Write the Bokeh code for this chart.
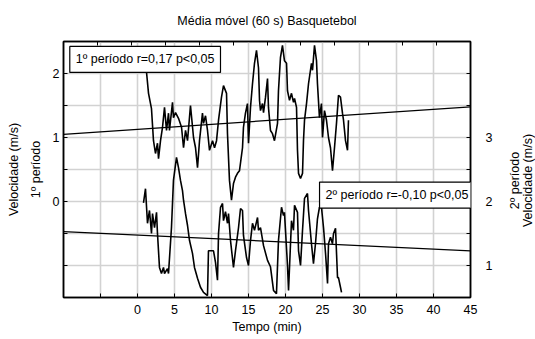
import math
from bokeh.plotting import figure
from bokeh.layouts import row
from bokeh.models import Range1d, LinearAxis, FixedTicker, Label
from bokeh.embed import file_html
from bokeh.resources import INLINE

# ---- data ----
t1 = [1.08, 1.22, 1.49, 1.89, 2.16, 2.43, 2.70, 2.84, 3.11, 3.38, 3.65, 3.92, 4.19, 4.32, 4.73, 4.86,
      5.14, 5.54, 5.95, 6.22, 6.49, 6.76, 7.16, 7.57, 7.84, 8.11, 8.38, 8.78, 8.92, 9.19, 9.46, 9.73,
      10.14, 10.41, 10.68, 10.95, 11.35, 11.62, 12.03, 12.16, 12.43, 12.70, 12.97, 13.24, 13.51, 13.78,
      14.19, 14.32, 14.59, 14.86, 15.00, 15.27, 15.54, 15.81, 16.08, 16.35, 16.49, 16.62, 16.89, 17.03,
      17.30, 17.57, 17.70, 17.97, 18.24, 18.51, 18.92, 19.05, 19.32, 19.59, 19.86, 20.14, 20.27, 20.54,
      20.81, 21.08, 21.22, 21.49, 21.62, 21.76, 22.03, 22.30, 22.43, 22.57, 22.84, 23.11, 23.51, 23.65,
      23.92, 24.19, 24.32, 24.59, 24.86, 25.00, 25.27, 25.54, 25.81, 26.08, 26.35, 26.62, 26.89, 27.16,
      27.43, 27.70, 27.84, 28.11, 28.38, 28.51]
v1 = [2.28, 2.02, 1.69, 1.45, 0.95, 0.75, 0.91, 0.67, 0.95, 1.16, 1.47, 1.11, 1.38, 1.11, 1.55, 1.31,
      1.39, 1.30, 1.16, 0.84, 1.11, 0.95, 1.50, 1.00, 0.84, 0.53, 0.95, 1.38, 1.22, 1.34, 1.11, 0.80,
      0.95, 0.84, 0.95, 1.27, 1.63, 1.81, 1.69, 1.06, 0.33, 0.02, 0.28, 0.38, 0.44, 0.48,
      0.84, 1.16, 1.38, 1.53, 0.91, 1.47, 1.84, 2.16, 2.36, 2.09, 1.58, 1.42, 1.53, 1.39,
      1.63, 1.92, 1.47, 1.11, 1.06, 0.95, 1.22, 1.73, 2.25, 2.44, 2.20, 2.16, 1.73, 1.58,
      1.69, 1.55, 1.61, 1.47, 0.80, 0.44, 0.36, 0.44, 0.95, 1.27, 1.53, 1.84, 2.16, 2.05,
      2.44, 2.20, 1.84, 1.31, 1.53, 1.00, 1.42, 1.27, 1.00, 0.84, 0.48, 0.84, 1.22, 1.66,
      1.63, 1.38, 1.27, 0.95, 0.80, 1.27]

t2 = [0.81, 1.08, 1.35, 1.62, 1.89, 2.03, 2.30, 2.57, 2.70, 2.97, 3.24, 3.51, 3.65, 4.05, 4.19, 4.59,
      4.86, 5.27, 5.54, 5.81, 6.08, 6.22, 6.49, 6.76, 7.03, 7.43, 7.70, 8.11, 8.51, 8.92, 9.46, 9.59,
      10.27, 10.54, 10.81, 10.95, 11.22, 11.49, 11.62, 11.89, 12.16, 12.30, 12.57, 12.97, 13.24, 13.65,
      13.92, 14.19, 14.32, 14.73, 15.00, 15.27, 15.54, 15.81, 16.22, 16.35, 16.62, 17.03, 17.57, 17.97,
      18.38, 18.78, 19.05, 19.46, 19.73, 19.86, 20.27, 20.41, 20.81, 21.08, 21.22, 21.62, 21.76, 22.03,
      22.30, 22.57, 22.97, 23.11, 23.51, 23.78, 24.05, 24.32, 24.59, 24.86, 25.14, 25.41, 25.68, 25.81,
      26.08, 26.35, 26.49, 26.76, 27.03, 27.16, 27.43, 27.57]
v2 = [1.98, 2.20, 1.66, 1.86, 1.50, 1.81, 1.59, 1.83, 1.50, 0.97, 0.875, 0.97, 0.875, 0.95, 0.875, 1.59,
      2.33, 2.69, 2.53, 2.33, 2.17, 2.02, 1.81, 1.625, 1.39, 1.19, 0.97, 0.80, 0.66, 0.58, 0.53, 1.23,
      1.23, 1.05, 0.77, 1.50, 1.91, 1.97, 1.70, 1.84, 1.66, 1.81, 1.39, 0.97, 1.23, 1.59,
      1.89, 1.86, 1.47, 1.125, 1.00, 1.39, 1.66, 1.55, 1.75, 1.55, 1.59, 1.31, 1.08, 0.98,
      0.61, 0.56, 1.39, 1.91, 1.78, 1.83, 1.00, 0.61, 1.70, 1.55, 1.94, 1.83, 1.23, 1.00,
      1.55, 2.05, 2.125, 1.86, 1.34, 1.03, 1.34, 1.73, 1.91, 1.91, 1.59, 1.19, 0.72, 1.34,
      1.44, 1.34, 1.50, 1.58, 0.81, 0.81, 0.66, 0.58]

fit_t = [-10, 45]
fit1 = [1.05, 1.48]
fit2 = [1.53, 1.23]

x_major = [0, 5, 10, 15, 20, 25, 30, 35, 40, 45]
x_minor = [-10, -5]
x_grid = [-5, 0, 5, 10, 15, 20, 25, 30, 35, 40]
top_ticks = [-10, -5, 0, 5, 10, 15, 20, 25, 30, 35, 40, 45, 50]
yl_major = [0, 1, 2]
yl_minor = [-1.5, -1, -0.5, 0.5, 1.5, 2.5]
yr_major = [1, 2, 3]
yr_minor = [0.5, 1.5, 2.5, 3.5, 4, 4.5]
y_grid = [-1, -0.5, 0, 0.5, 1, 1.5, 2]

title_text = "Média móvel (60 s) Basquetebol"
xlabel = "Tempo (min)"
ylabel_l = ["Velocidade (m/s)", "1º período"]
ylabel_r = ["2º período", "Velocidade (m/s)"]
note1 = "1º período r=0,17 p<0,05"
note2 = "2º período r=-0,10 p<0,05"

FONT = "Liberation Sans"
FS = "12.5px"

p = figure(frame_width=407, frame_height=256,
           min_border_left=63, min_border_right=29, min_border_top=41, min_border_bottom=42,
           x_range=Range1d(-10, 45), y_range=Range1d(-1.5, 2.5),
           output_backend="svg", toolbar_location=None)
p.extra_y_ranges = {"right": Range1d(0.5, 4.5)}
p.extra_x_ranges = {"top": Range1d(-10, 50)}
p.outline_line_color = "black"
p.outline_line_width = 1.5
p.background_fill_color = "white"
p.border_fill_color = "white"

p.title.text = title_text
p.title.align = "center"
p.title.vertical_align = "top"
p.title.text_font = FONT
p.title.text_font_size = FS
p.title.text_font_style = "normal"
p.title.text_color = "black"
p.title.standoff = 24


def style_axis(ax):
    ax.major_tick_in = 4
    ax.major_tick_out = 0
    ax.minor_tick_in = 4
    ax.minor_tick_out = 0
    ax.major_tick_line_color = "black"
    ax.minor_tick_line_color = "black"
    ax.axis_line_color = "black"
    ax.axis_line_width = 1.5
    ax.major_label_text_font = FONT
    ax.major_label_text_font_size = FS
    ax.major_label_text_color = "black"
    ax.axis_label_text_font = FONT
    ax.axis_label_text_font_size = FS
    ax.axis_label_text_font_style = "normal"
    ax.axis_label_text_color = "black"


def label_axis(text, standoff):
    ax = LinearAxis(ticker=FixedTicker(ticks=[]))
    style_axis(ax)
    ax.axis_line_color = None
    ax.major_tick_line_color = None
    ax.minor_tick_line_color = None
    ax.major_label_standoff = 0
    ax.axis_label = text
    ax.axis_label_standoff = standoff
    return ax


xa = p.xaxis[0]
xa.ticker = FixedTicker(ticks=x_major, minor_ticks=x_minor)
style_axis(xa)
xa.major_label_standoff = 7
xa.axis_label = xlabel
xa.axis_label_standoff = 3

ya = p.yaxis[0]
ya.ticker = FixedTicker(ticks=yl_major, minor_ticks=yl_minor)
style_axis(ya)
ya.major_label_standoff = 4
ya.major_label_orientation = "horizontal"
ya.axis_label = ylabel_l[1]
ya.axis_label_standoff = 7
p.add_layout(label_axis(ylabel_l[0], 5), "left")

ra = LinearAxis(y_range_name="right", ticker=FixedTicker(ticks=yr_major, minor_ticks=yr_minor))
style_axis(ra)
ra.major_label_standoff = 15
ra.major_label_orientation = "horizontal"
p.add_layout(ra, "right")

ta = LinearAxis(x_range_name="top", ticker=FixedTicker(ticks=top_ticks))
style_axis(ta)
ta.major_label_text_color = None
ta.major_label_text_font_size = "1px"
ta.major_label_standoff = 0
p.add_layout(ta, "above")

p.xgrid.ticker = FixedTicker(ticks=x_grid)
p.ygrid.ticker = FixedTicker(ticks=y_grid)
for g in (p.xgrid[0], p.ygrid[0]):
    g.grid_line_color = "#d2d2d2"
    g.grid_line_width = 1.6

# regression lines
p.line(fit_t, fit1, line_color="black", line_width=1.2)
p.line(fit_t, fit2, line_color="black", line_width=1.2, y_range_name="right")
# series
p.line(t1, v1, line_color="black", line_width=1.6)
p.line(t2, v2, line_color="black", line_width=1.6, y_range_name="right")


def box(text, x, y, yr="default"):
    lab = Label(x=x, y=y, text=text, text_font=FONT, text_font_size=FS, text_color="black",
                text_align="left", text_baseline="middle",
                border_line_color="black", border_line_width=1.2,
                background_fill_color="white", padding=6, y_range_name=yr)
    p.add_layout(lab)


box(note1, -9.15, 2.22)
box(note2, 24.6, 2.10, "right")

# right-hand title strip (reads bottom-to-top like the left one)
side = figure(title=None, frame_width=36, frame_height=339, min_border=0,
              x_range=Range1d(0, 36), y_range=Range1d(0, 339),
              x_axis_type=None, y_axis_type=None,
              output_backend="svg", toolbar_location=None)
side.outline_line_color = None
side.background_fill_color = "white"
side.border_fill_color = "white"
for txt, xpos in zip(ylabel_r, (15.5, 28.5)):
    side.add_layout(Label(x=xpos, y=200, text=txt, angle=math.pi / 2,
                          text_font=FONT, text_font_size=FS, text_color="black",
                          text_align="center", text_baseline="middle"))

layout = row(p, side)
open("out.html", "w").write(file_html(layout, INLINE))
